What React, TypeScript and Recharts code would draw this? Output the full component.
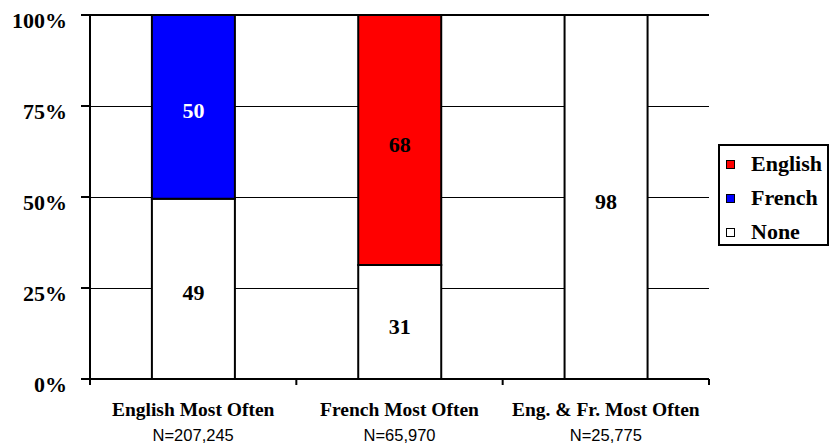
import React from 'react';
import { BarChart, Bar, XAxis, YAxis, CartesianGrid, Legend, LabelList, ReferenceLine } from 'recharts';

const categories = ['English Most Often', 'French Most Often', 'Eng. & Fr. Most Often'];
const sampleSizes = ['N=207,245', 'N=65,970', 'N=25,775'];
const noneValues = [49, 31, 98];
const frenchValues = [50, 0, 0];
const englishValues = [0, 68, 0];
const yTicks = [0, 0.25, 0.5, 0.75, 1];
const legendOrder = ['English', 'French', 'None'];

const data = categories.map((c, i) => ({
  category: c,
  None: noneValues[i],
  French: frenchValues[i],
  English: englishValues[i],
}));

const SERIF = 'Liberation Serif, Times New Roman, Times, DejaVu Serif, serif';
const SANS = 'Liberation Sans, Arial, sans-serif';

const YTick = (props: any) => {
  const { x, y, payload } = props;
  return (
    <text x={x} y={y + 5} textAnchor="end" dominantBaseline="central" fontFamily={SERIF} fontWeight="bold" fontSize={22} fill="#000">
      {Math.round(payload.value * 100)}%
    </text>
  );
};

const XTick = (props: any) => {
  const { x, y, payload, index, visibleTicksCount, width } = props;
  const count = visibleTicksCount || categories.length;
  const half = payload && payload.offset ? payload.offset : width ? width / count / 2 : 0;
  return (
    <g>
      <line x1={x - half} x2={x - half} y1={y} y2={y + 6} stroke="#000" strokeWidth={2} />
      {index === count - 1 && <line x1={x + half} x2={x + half} y1={y} y2={y + 6} stroke="#000" strokeWidth={2} />}
      <text x={x} y={y + 30} textAnchor="middle" dominantBaseline="central" fontFamily={SERIF} fontWeight="bold" fontSize={19.5} fill="#000">
        {payload.value}
      </text>
      <text x={x} y={y + 56} textAnchor="middle" dominantBaseline="central" fontFamily={SANS} fontSize={16.5} fill="#000">
        {sampleSizes[index]}
      </text>
    </g>
  );
};

const GridLine = (p: any) => (
  <line
    key={p.key}
    x1={p.x1}
    y1={Math.round(p.y1) + 0.5}
    x2={p.x2}
    y2={Math.round(p.y2) + 0.5}
    stroke="#000"
    strokeWidth={1}
    shapeRendering="crispEdges"
  />
);

const makeLabel = (color: string) => (props: any) => {
  const vb = props.viewBox && props.viewBox.width !== undefined ? props.viewBox : props;
  const { x, y, width, height } = vb;
  const value = props.value;
  if (!value) return null;
  return (
    <text x={x + width / 2} y={y + height / 2 + 4} textAnchor="middle" dominantBaseline="central" fill={color} fontFamily={SERIF} fontWeight="bold" fontSize={22}>
      {value}
    </text>
  );
};

const LegendBox = (props: any) => {
  const items = [...(props.payload || [])].sort(
    (a: any, b: any) => legendOrder.indexOf(a.value) - legendOrder.indexOf(b.value)
  );
  return (
    <div style={{ width: 107, height: 97, border: '2px solid #000', background: '#fff', paddingTop: 1, boxSizing: 'content-box' }}>
      {items.map((it: any) => (
        <div key={it.value} style={{ height: 34, display: 'flex', alignItems: 'center' }}>
          <div style={{ width: 7, height: 7, border: '1.5px solid #000', background: it.color, marginLeft: 6, marginRight: 16 }} />
          <span style={{ fontFamily: SERIF, fontWeight: 'bold', fontSize: 22, color: '#000', lineHeight: '34px' }}>{it.value}</span>
        </div>
      ))}
    </div>
  );
};

export default function App() {
  return (
    <div style={{ position: 'absolute', left: 0, top: 0, width: 830, height: 444, background: '#fff' }}>
      <BarChart
        width={830}
        height={444}
        data={data}
        stackOffset="expand"
        barCategoryGap="30%"
        margin={{ top: 15, right: 121, left: 0, bottom: 0 }}
      >
        <CartesianGrid vertical={false} horizontal={GridLine} stroke="#000" strokeWidth={1} />
        <XAxis
          dataKey="category"
          height={65}
          tickLine={false}
          tickSize={0}
          tickMargin={0}
          axisLine={{ stroke: '#000', strokeWidth: 2 }}
          tick={<XTick />}
          interval={0}
        />
        <YAxis
          width={90}
          domain={[0, 1]}
          ticks={yTicks}
          tickSize={9}
          tickMargin={14}
          tickLine={{ stroke: '#000', strokeWidth: 2 }}
          axisLine={{ stroke: '#000', strokeWidth: 2 }}
          tick={<YTick />}
        />
        <YAxis
          yAxisId="right"
          orientation="right"
          width={0}
          domain={[0, 1]}
          tick={false}
          tickLine={false}
          axisLine={{ stroke: '#000', strokeWidth: 2 }}
        />
        <ReferenceLine y={1} stroke="#000" strokeWidth={2} />
        <Legend
          layout="vertical"
          align="center"
          verticalAlign="middle"
          content={<LegendBox />}
          wrapperStyle={{ position: 'absolute', left: 718, top: 144, width: 111 }}
        />
        <Bar dataKey="None" name="None" stackId="s" fill="#FFFFFF" stroke="#000" strokeWidth={2} isAnimationActive={false}>
          <LabelList dataKey="None" content={makeLabel('#000')} />
        </Bar>
        <Bar dataKey="French" name="French" stackId="s" fill="#0000FF" stroke="#000" strokeWidth={2} isAnimationActive={false}>
          <LabelList dataKey="French" content={makeLabel('#FFFFFF')} />
        </Bar>
        <Bar dataKey="English" name="English" stackId="s" fill="#FF0000" stroke="#000" strokeWidth={2} isAnimationActive={false}>
          <LabelList dataKey="English" content={makeLabel('#000')} />
        </Bar>
      </BarChart>
    </div>
  );
}
